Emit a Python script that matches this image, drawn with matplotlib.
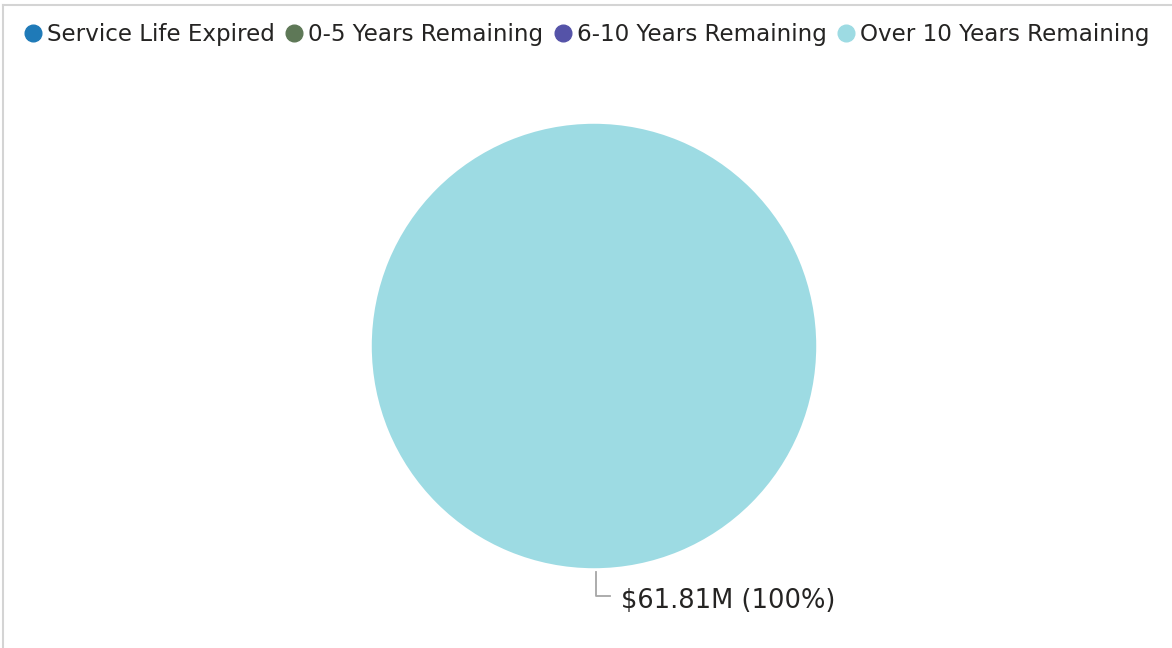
import matplotlib.pyplot as plt
from matplotlib.lines import Line2D

categories = ['Service Life Expired', '0-5 Years Remaining', '6-10 Years Remaining', 'Over 10 Years Remaining']
values = [0.0, 0.0, 0.0, 61.81]  # $M
colors = ['#1F7AB8', '#5E7857', '#5553A8', '#9DDBE3']

fig = plt.figure(figsize=(11.72, 6.48), dpi=100)

# pie axes: center ~ (594, 346) px, radius ~222 px
ax = fig.add_axes([294 / 1172, (648 - 346 - 300) / 648, 600 / 1172, 600 / 648])
nz = [i for i, v in enumerate(values) if v > 0]
ax.pie([values[i] for i in nz], colors=[colors[i] for i in nz],
       startangle=90, counterclock=False, radius=1.0)
ax.set_xlim(-1.35, 1.35)
ax.set_ylim(-1.35, 1.35)
ax.set_aspect('equal')
ax.axis('off')

# data label with elbow leader line
total = sum(values)
v = values[3]
ax.plot([0.009, 0.009, 0.072], [-1.018, -1.126, -1.126], color='#A6A6A6', lw=1.3)
ax.text(0.122, -1.147, '${:.2f}M ({:.0f}%)'.format(v, v / total * 100),
        fontsize=18.5, color='#252423', va='center', ha='left')

# legend across the top
handles = [Line2D([], [], marker='o', linestyle='', markersize=12,
                  markerfacecolor=c, markeredgecolor=c) for c in colors]
fig.legend(handles, categories, loc='upper left', bbox_to_anchor=(19 / 1172, 1 - 23 / 648),
           ncol=4, frameon=False, fontsize=16.6, handletextpad=0.0,
           columnspacing=0.25, handlelength=1.2, borderaxespad=0, borderpad=0,
           labelcolor='#252423')

# light border on top and left
fig.add_artist(Line2D([3 / 1172, 1], [1 - 5 / 648, 1 - 5 / 648], color='#D4D4D4', lw=1.5))
fig.add_artist(Line2D([3 / 1172, 3 / 1172], [0, 1 - 5 / 648], color='#D4D4D4', lw=1.5))

fig.savefig('out.png', dpi=100, facecolor='white')
